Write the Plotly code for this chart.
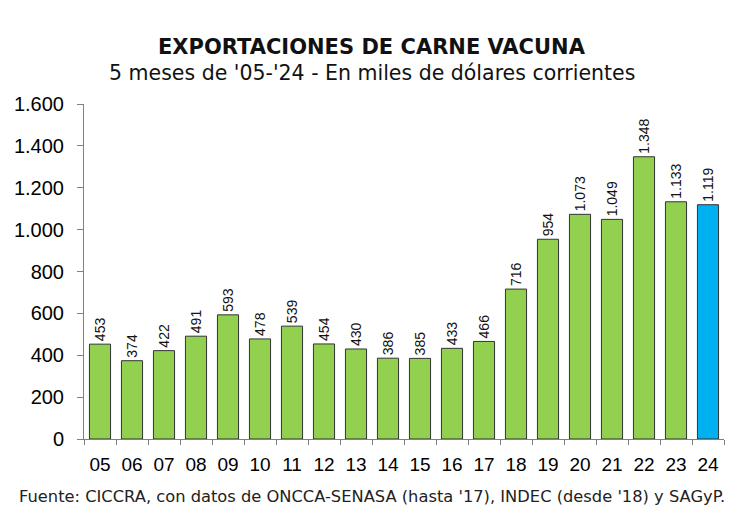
import plotly.graph_objects as go

years = ["05","06","07","08","09","10","11","12","13","14","15","16","17","18","19","20","21","22","23","24"]
values = [453,374,422,491,593,478,539,454,430,386,385,433,466,716,954,1073,1049,1348,1133,1119]
green = "#92D050"
blue = "#00B0F0"
colors = [green]*(len(years)-1) + [blue]
labels = [f"{v:,}".replace(",", ".") for v in values]

fig = go.Figure(go.Bar(
    x=years, y=values,
    marker=dict(color=colors, line=dict(color="#333333", width=1)),
    text=labels, textposition="outside", textangle=-90,
    textfont=dict(family="Liberation Sans, Arial", size=14, color="#111111"),
    cliponaxis=False,
))

fig.update_layout(
    width=744, height=517,
    margin=dict(l=84, r=20, t=104, b=78),
    paper_bgcolor="white", plot_bgcolor="white",
    bargap=0.34,
    separators=",.",
    showlegend=False,
    uniformtext=dict(minsize=14, mode="show"),
    font=dict(family="Liberation Sans, Arial", color="#000000"),
)
fig.update_yaxes(
    range=[0, 1600], dtick=200, tickformat=",d", automargin=False,
    showgrid=False, zeroline=False,
    showline=True, linecolor="#808080", linewidth=1,
    ticks="outside", ticklen=6, tickcolor="#808080", ticklabelstandoff=9,
    tickfont=dict(size=20, family="Liberation Sans, Arial"),
)
fig.update_xaxes(
    automargin=False,
    showgrid=False, showline=True, linecolor="#808080", linewidth=1,
    ticks="outside", ticklen=5, tickcolor="#808080", tickson="boundaries",
    ticklabelstandoff=8,
    tickfont=dict(size=19, family="Liberation Sans, Arial"),
)
fig.add_annotation(text="<b>EXPORTACIONES DE CARNE VACUNA</b>", xref="paper", yref="paper",
                   x=0.45, y=1.17, showarrow=False, xanchor="center", yanchor="middle",
                   font=dict(size=21, family="DejaVu Sans", color="#111111"))
fig.add_annotation(text="5 meses de '05-'24 - En miles de dólares corrientes", xref="paper", yref="paper",
                   x=0.45, y=1.093, showarrow=False, xanchor="center", yanchor="middle",
                   font=dict(size=20.5, family="DejaVu Sans", color="#111111"))
fig.add_annotation(text="Fuente: CICCRA, con datos de ONCCA-SENASA (hasta '17), INDEC (desde '18) y SAGyP.",
                   xref="paper", yref="paper", x=-0.105, y=-0.173, showarrow=False,
                   xanchor="left", yanchor="middle",
                   font=dict(size=16.3, family="DejaVu Sans", color="#222222"))
fig.write_html("out.html")
